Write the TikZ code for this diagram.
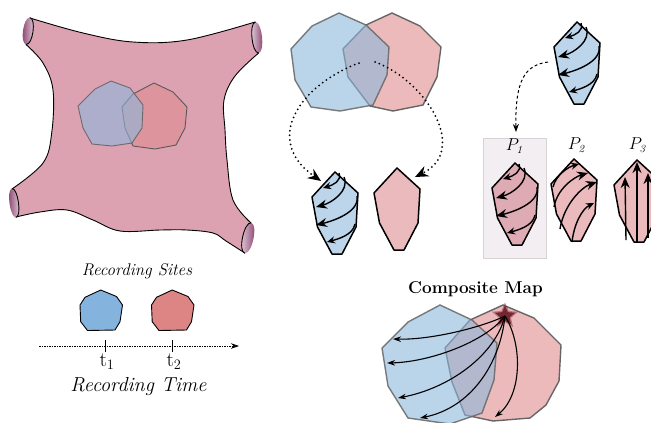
\documentclass[tikz,border=0pt]{standalone}
\usetikzlibrary{arrows.meta,shapes.geometric}
\definecolor{cellpink}{RGB}{220,162,178}
\definecolor{capdark}{RGB}{125,45,92}
\definecolor{capmid}{RGB}{178,104,146}
\definecolor{capglow}{RGB}{240,228,236}
\definecolor{siteblue}{RGB}{140,183,220}
\definecolor{sitered}{RGB}{223,140,142}
\definecolor{leafblue}{RGB}{188,213,235}
\definecolor{leafpink}{RGB}{235,186,188}
\definecolor{leafpinkdim}{RGB}{222,170,180}
\definecolor{pentblue}{RGB}{132,180,222}
\definecolor{pentred}{RGB}{221,133,133}
\definecolor{boxfill}{RGB}{243,238,242}
\definecolor{boxline}{RGB}{216,210,214}
\definecolor{starred}{RGB}{118,38,50}

% leaf-shaped field polygon, top vertex at (#2,#3)
\newcommand{\leafat}[3]{%
  \begin{scope}[shift={(#2,#3)}]
    \draw[leafline,#1] (0,0) -- (23,21) -- (21,55) -- (7,82) -- (-3,82)
      -- (-17.5,55) -- (-23,25) -- cycle;
  \end{scope}}
% swirl of arrows bending down and to the left
\newcommand{\swirlat}[2]{%
  \begin{scope}[shift={(#1,#2)}]
    \draw[flowsmall] (4,1) .. controls (7,9) and (-2,13) .. (-12,16);
    \draw[flowbig] (9,5) .. controls (15,19) and (-4,31) .. (-19,35);
    \draw[flowbig] (22,24) .. controls (25,40) and (-2,49) .. (-19,53);
    \draw[flowsmall] (20,52) .. controls (18,63) and (3,67) .. (-8,70);
  \end{scope}}
% arrows rising up and to the right
\newcommand{\riseat}[2]{%
  \begin{scope}[shift={(#1,#2)}]
    \draw[flowsmall] (-21,28) .. controls (-18,16) and (-6,8) .. (5,5);
    \draw[flowbig] (-20,48) .. controls (-17,30) and (0,18) .. (14,14);
    \draw[flowbig] (-14,70) .. controls (-10,45) and (8,28) .. (23,23);
    \draw[flowsmall] (-2,83) .. controls (0,65) and (8,50) .. (20,44);
  \end{scope}}
% straight upward arrows
\newcommand{\straightat}[2]{%
  \begin{scope}[shift={(#1,#2)}]
    \draw[flowbig] (-11,80) -- (-12,17);
    \draw[flowbig] (0,83) -- (0,2);
    \draw[flowbig] (11,78) -- (11,13);
  \end{scope}}

\begin{document}
\begin{tikzpicture}[x=1bp,y=-1bp,
  leafline/.style={draw=black, line width=1.5bp, line join=round},
  flowsmall/.style={line width=1.4bp, -{Stealth[length=8bp,width=7bp]}},
  flowbig/.style={line width=1.4bp, -{Stealth[length=11bp,width=9bp]}},
  vennred/.style={fill=sitered, fill opacity=0.6, draw=black!60, line width=1.4bp},
  vennblue/.style={fill=siteblue, fill opacity=0.6, draw=black!60, draw opacity=0.85, line width=1.4bp},
  cellred/.style={fill=sitered, fill opacity=0.6, draw=black!65, line width=0.9bp},
  cellblue/.style={fill=siteblue, fill opacity=0.6, draw=black!65, draw opacity=0.8, line width=0.9bp},
  dotlink/.style={line width=2bp, line cap=round, dash pattern=on 0bp off 4.6bp,
    -{Stealth[length=13bp,width=11bp,line cap=butt]}},
  dashlink/.style={line width=1bp, dash pattern=on 3bp off 2.5bp, -{Stealth[length=8bp,width=6bp]}},
  raylink/.style={line width=1.1bp, -{Stealth[length=8bp,width=5.5bp]}},
  sitepent/.style={draw=black, line width=0.9bp, line join=round}
]
\useasboundingbox (0,0) rectangle (651,422);

% ---------------- neuron body with cut dendrite ends ----------------
\draw[fill=cellpink, line width=0.9bp]
  plot[smooth, tension=0.6] coordinates {(30,18) (83,33) (133,42) (187,40) (255,22)}
  -- plot[smooth, tension=0.6] coordinates {(258.6,53) (235,76) (224,100) (225,130) (227,160) (233,200) (251,223)}
  -- plot[smooth, tension=0.6] coordinates {(244.8,253) (226,241) (213,233) (187,230) (160,230) (120,231) (93,220) (67,210) (40,212) (16,217)}
  -- plot[smooth, tension=0.6] coordinates {(12,189) (43,163) (51.7,133) (53,90) (43,63) (26,44.5)}
  -- cycle;

% cut ends, body on the right
\begin{scope}[shift={(28,31)}, rotate=-8]
  \shade[left color=capdark, middle color=capmid, right color=capglow]
    (0,-13.5) .. controls (6.7,-13.5) and (6.7,13.5) .. (0,13.5)
    .. controls (-6.7,13.5) and (-6.7,-13.5) .. (0,-13.5) -- cycle;
  \draw[line width=0.9bp] (0,-13.5) .. controls (6.7,-13.5) and (6.7,13.5) .. (0,13.5);
\end{scope}
\begin{scope}[shift={(14,203)}, rotate=8]
  \shade[left color=capdark, middle color=capmid, right color=capglow]
    (0,-14.5) .. controls (6,-14.5) and (6,14.5) .. (0,14.5)
    .. controls (-6,14.5) and (-6,-14.5) .. (0,-14.5) -- cycle;
  \draw[line width=0.9bp] (0,-14.5) .. controls (6,-14.5) and (6,14.5) .. (0,14.5);
\end{scope}
% cut ends, body on the left
\begin{scope}[shift={(257,37.5)}, rotate=6]
  \shade[left color=capglow, middle color=capmid, right color=capdark]
    (0,-15.5) .. controls (6.7,-15.5) and (6.7,15.5) .. (0,15.5)
    .. controls (-6.7,15.5) and (-6.7,-15.5) .. (0,-15.5) -- cycle;
  \draw[line width=0.9bp] (0,-15.5) .. controls (-6.7,-15.5) and (-6.7,15.5) .. (0,15.5);
\end{scope}
\begin{scope}[shift={(248,238)}, rotate=-12]
  \shade[left color=capglow, middle color=capmid, right color=capdark]
    (0,-15.5) .. controls (7.3,-15.5) and (7.3,15.5) .. (0,15.5)
    .. controls (-7.3,15.5) and (-7.3,-15.5) .. (0,-15.5) -- cycle;
  \draw[line width=0.9bp] (0,-15.5) .. controls (-7.3,-15.5) and (-7.3,15.5) .. (0,15.5);
\end{scope}

% recording fields on the neuron
\draw[cellred] (154,83) -- (173,92) -- (187,107) -- (185,128) -- (176,145) -- (155,149)
  -- (133,146) -- (125,128) -- (122,107) -- (133,94) -- cycle;
\draw[cellblue] (111,81) -- (130,88) -- (143,105) -- (142,128) -- (132,143) -- (112,146)
  -- (92,144) -- (83,128) -- (78,106) -- (95,89) -- cycle;

% ---------------- recording sites and time axis ----------------
\node[font=\itshape\fontsize{17}{19}\selectfont] (sitestitle) at (137,271) {Recording Sites};
\begin{scope}[shift={(101.5,311)}]
  \draw[sitepent, fill=pentblue] (-0.8,-21) -- (15,-14.5) -- (21,-6) -- (18.5,10.7) -- (13.5,19)
    -- (-14,19.5) -- (-20.8,10.7) -- (-21.5,-6) -- (-16.5,-13.7) -- cycle;
\end{scope}
\begin{scope}[shift={(173,311)}]
  \draw[sitepent, fill=pentred] (-0.8,-21) -- (15,-14.5) -- (21,-6) -- (18.5,10.7) -- (13.5,19)
    -- (-14,19.5) -- (-20.8,10.7) -- (-21.5,-6) -- (-16.5,-13.7) -- cycle;
\end{scope}
\coordinate (axisstart) at (39,346);
\coordinate (axisend) at (239,346);
\draw[line width=0.7bp, dash pattern=on 1.6bp off 0.9bp, -{Stealth[length=8bp,width=5.5bp]}]
  (axisstart) -- (axisend);
\draw[line width=0.7bp] (105,340) -- (105,352);
\draw[line width=0.7bp] (172,340) -- (172,352);
\node[font=\fontsize{20}{22}\selectfont] (tone) at (107,362) {$\mathrm{t}_1$};
\node[font=\fontsize{20}{22}\selectfont] (ttwo) at (174,362) {$\mathrm{t}_2$};
\node[font=\itshape\fontsize{20.3}{23}\selectfont] (timetitle) at (138.5,387) {Recording Time};

% ---------------- overlapping fields and their split ----------------
\draw[vennred] (392,13) -- (420,26) -- (441,47) -- (437,77) -- (423,105) -- (393,111)
  -- (370,106) -- (348,77) -- (343,49) -- (366,25) -- cycle;
\draw[vennblue] (339,13) -- (366,25) -- (389,47) -- (387,75) -- (373,105) -- (362,107)
  -- (340,111) -- (311,107) -- (295,80) -- (291,49) -- (312,26) -- cycle;

\leafat{fill=leafblue}{335}{172}
\swirlat{335}{172}
\leafat{fill=leafpink}{397}{168}

\coordinate (vennleft) at (359,63);
\coordinate (vennright) at (375,62);
\coordinate (blueleafin) at (321,181);
\coordinate (pinkleafin) at (415,177);
\draw[dotlink] (vennleft) .. controls (300,85) and (262,140) .. (blueleafin);
\draw[dotlink] (vennright) .. controls (425,80) and (470,150) .. (pinkleafin);

% ---------------- candidate flow patterns ----------------
\draw[fill=boxfill, draw=boxline, line width=0.6bp] (483,138) rectangle (546,258);

\leafat{fill=leafblue}{577}{22}
\swirlat{577}{22}

\leafat{fill=leafpinkdim}{515}{163}
\swirlat{515}{163}
\leafat{fill=leafpink}{574}{159}
\riseat{574}{159}
\leafat{fill=leafpink}{637}{160}
\straightat{637}{160}

\node[font=\fontsize{16}{18}\selectfont] (pone) at (515,146) {$P_{\mathit{1}}$};
\node[font=\fontsize{16}{18}\selectfont] (ptwo) at (577,145) {$P_{\mathit{2}}$};
\node[font=\fontsize{16}{18}\selectfont] (pthree) at (638,145) {$P_{\mathit{3}}$};

\coordinate (swirlexit) at (548,62);
\coordinate (pentry) at (516,132);
\draw[dashlink] (swirlexit) .. controls (525,65) and (515,80) .. (pentry);

% ---------------- composite map ----------------
\node[font=\bfseries\fontsize{17.2}{19}\selectfont] (comptitle) at (475.5,289) {Composite Map};
\draw[vennred] (503,305) -- (534,318) -- (561,345) -- (559,381) -- (546,405) -- (530,418)
  -- (493,421) -- (465,415) -- (452,382) -- (445,348) -- (470,320) -- cycle;
\draw[vennblue] (440,305) -- (472,320) -- (497,343) -- (494,380) -- (482,413) -- (450,424)
  -- (408,418) -- (388,386) -- (382,348) -- (408,322) -- cycle;

\node[star, star points=5, star point ratio=2.2, minimum size=21bp, inner sep=0pt,
  fill=starred, draw=starred, draw opacity=0.45, line width=2.5bp] (src) at (505,316) {};
\coordinate (ray1) at (393,339);
\coordinate (ray2) at (387,363);
\coordinate (ray3) at (398,398);
\coordinate (ray4) at (420,418);
\coordinate (ray5) at (495,417);
\draw[raylink] (src.center) .. controls (480,328) and (430,340) .. (ray1);
\draw[raylink] (src.center) .. controls (485,342) and (430,362) .. (ray2);
\draw[raylink] (src.center) .. controls (495,355) and (450,388) .. (ray3);
\draw[raylink] (src.center) .. controls (500,365) and (470,408) .. (ray4);
\draw[raylink] (src.center) .. controls (523,345) and (522,395) .. (ray5);
\end{tikzpicture}
\end{document}
